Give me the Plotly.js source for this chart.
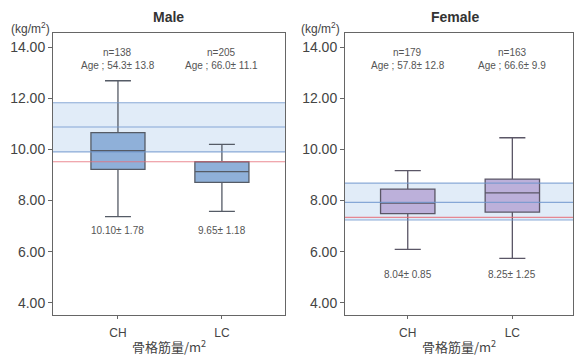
<!DOCTYPE html>
<html><head><meta charset="utf-8">
<script src="https://cdn.plot.ly/plotly-3.0.1.min.js"></script>
<style>html,body{margin:0;padding:0;background:#fff}</style>
</head><body>
<div id="chart" style="width:574px;height:358px"></div>
<script>
const categories = ['CH', 'LC'];

const maleQ1 = [9.22, 8.71];
const maleMedian = [9.95, 9.13];
const maleQ3 = [10.66, 9.52];
const maleLower = [7.37, 7.58];
const maleUpper = [12.69, 10.20];

const femaleQ1 = [7.49, 7.55];
const femaleMedian = [7.90, 8.30];
const femaleQ3 = [8.45, 8.84];
const femaleLower = [6.09, 5.74];
const femaleUpper = [9.17, 10.46];

// reference band: [low, mid, high], and red cut-off line
const maleBand = [9.91, 10.88, 11.83];
const maleCut = 9.52;
const femaleBand = [7.24, 7.93, 8.68];
const femaleCut = 7.34;

const maleN = ['n=138', 'n=205'];
const maleAge = ['Age ; 54.3± 13.8', 'Age ; 66.0± 11.1'];
const maleMean = ['10.10± 1.78', '9.65± 1.18'];
const femaleN = ['n=179', 'n=163'];
const femaleAge = ['Age ; 57.8± 12.8', 'Age ; 66.6± 9.9'];
const femaleMean = ['8.04± 0.85', '8.25± 1.25'];

const yTicks = [4, 6, 8, 10, 12, 14];
const yTickText = ['4.00', '6.00', '8.00', '10.00', '12.00', '14.00'];

const font = 'Liberation Sans, Arial, sans-serif';
const cjk = 'Noto Sans CJK JP, sans-serif';

function boxTrace(q1, med, q3, lo, hi, fill, line, xa, ya) {
  return {
    type: 'box', x: categories, q1: q1, median: med, q3: q3,
    lowerfence: lo, upperfence: hi,
    xaxis: xa, yaxis: ya, width: 0.52, whiskerwidth: 0.48,
    fillcolor: fill, line: {color: line, width: 1.3},
    boxpoints: false, hoverinfo: 'skip', showlegend: false
  };
}

const traces = [
  boxTrace(maleQ1, maleMedian, maleQ3, maleLower, maleUpper, '#8fb0d9', '#555b66', 'x', 'y'),
  boxTrace(femaleQ1, femaleMedian, femaleQ3, femaleLower, femaleUpper, '#bcb0da', '#5a5666', 'x2', 'y2')
];

function bandShapes(band, cut, xa, ya) {
  const xr = xa + ' domain';
  const s = [];
  s.push({type: 'rect', xref: xr, yref: ya, x0: 0, x1: 1, y0: band[0], y1: band[2],
    fillcolor: 'rgba(215,230,245,0.75)', line: {width: 0}, layer: 'below'});
  band.forEach(v => s.push({type: 'line', xref: xr, yref: ya, x0: 0, x1: 1, y0: v, y1: v,
    line: {color: 'rgba(110,150,205,0.8)', width: 1.2}, layer: 'above'}));
  s.push({type: 'line', xref: xr, yref: ya, x0: 0, x1: 1, y0: cut, y1: cut,
    line: {color: 'rgba(230,110,120,0.8)', width: 1.2}, layer: 'above'});
  return s;
}

const shapes = [].concat(
  bandShapes(maleBand, maleCut, 'x', 'y'),
  bandShapes(femaleBand, femaleCut, 'x2', 'y2')
);

const annFont = {family: font, size: 10, color: '#555'};
const annotations = [];
function addTexts(nArr, ageArr, meanArr, meanY, xa, ya) {
  categories.forEach((c, i) => {
    annotations.push({xref: xa, yref: ya, x: c, y: 13.78, text: nArr[i], showarrow: false, font: annFont, yanchor: 'middle'});
    annotations.push({xref: xa, yref: ya, x: c, y: 13.28, text: ageArr[i], showarrow: false, font: annFont, yanchor: 'middle'});
    annotations.push({xref: xa, yref: ya, x: c, y: meanY, text: meanArr[i], showarrow: false, font: annFont, yanchor: 'middle'});
  });
}
addTexts(maleN, maleAge, maleMean, 6.81, 'x', 'y');
addTexts(femaleN, femaleAge, femaleMean, 5.10, 'x2', 'y2');

function paperText(px, py, text, f) {
  annotations.push({xref: 'paper', yref: 'paper', x: px/574, y: 1 - py/358, text: text,
    showarrow: false, xanchor: 'center', yanchor: 'middle', font: f});
}
paperText(30, 28, '(kg/m<sup>2</sup>)', {family: font, size: 12, color: '#444'});
paperText(320, 28, '(kg/m<sup>2</sup>)', {family: font, size: 12, color: '#444'});
paperText(168, 17, '<b>Male</b>', {family: font, size: 14, color: '#333'});
paperText(455, 17, '<b>Female</b>', {family: font, size: 14, color: '#333'});

function xAxis(domain, range, anchor) {
  return {
    domain: domain, range: range, anchor: anchor, type: 'category',
    showline: true, mirror: true, linecolor: '#666', linewidth: 1,
    ticks: 'outside', ticklen: 3, tickcolor: '#666', showgrid: false, zeroline: false,
    ticklabelstandoff: 4,
    tickfont: {family: font, size: 12, color: '#444'},
    title: {text: '骨格筋量/m<sup>2</sup>', font: {family: cjk, size: 13, color: '#444'}, standoff: 3}
  };
}
function yAxis(range, anchor) {
  return {
    domain: [43/358, 325/358], range: range, anchor: anchor,
    showline: true, mirror: true, linecolor: '#666', linewidth: 1,
    ticks: 'outside', ticklen: 4, tickcolor: '#666', showgrid: false, zeroline: false,
    tickvals: yTicks, ticktext: yTickText,
    tickfont: {family: font, size: 14, color: '#444'}
  };
}

const layout = {
  width: 574, height: 358,
  margin: {l: 0, r: 0, t: 0, b: 0, pad: 0},
  paper_bgcolor: '#fff', plot_bgcolor: '#fff',
  showlegend: false,
  xaxis: xAxis([53/574, 285/574], [-0.625, 1.607], 'y'),
  yaxis: yAxis([3.52, 14.56], 'x'),
  xaxis2: xAxis([345/574, 573/574], [-0.6, 1.58], 'y2'),
  yaxis2: yAxis([3.52, 14.56], 'x2'),
  shapes: shapes,
  annotations: annotations
};

Plotly.newPlot('chart', traces, layout, {displayModeBar: false, staticPlot: true});
</script>
</body></html>
